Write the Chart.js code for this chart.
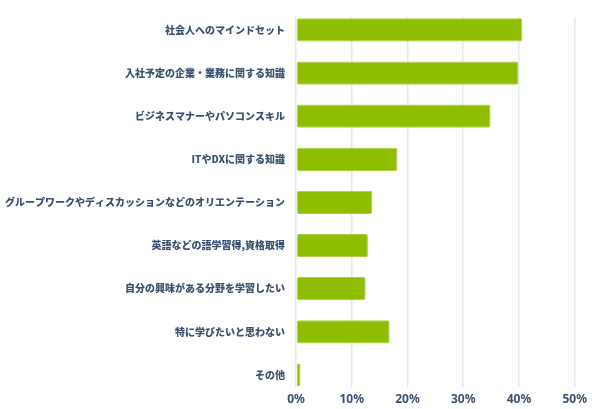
<!DOCTYPE html>
<html>
<head>
<meta charset="utf-8">
<script src="https://cdn.jsdelivr.net/npm/chart.js@4"></script>
<style>
html,body{margin:0;padding:0;background:#fff;}
#wrap{width:592px;height:409px;position:relative;}
</style>
</head>
<body>
<div id="wrap"><canvas id="c"></canvas></div>
<script>
const categories = [
  "社会人へのマインドセット",
  "入社予定の企業・業務に関する知識",
  "ビジネスマナーやパソコンスキル",
  "ITやDXに関する知識",
  "グループワークやディスカッションなどのオリエンテーション",
  "英語などの語学習得,資格取得",
  "自分の興味がある分野を学習したい",
  "特に学びたいと思わない",
  "その他"
];
const values = [40.6, 39.9, 34.9, 18.2, 13.7, 12.9, 12.5, 16.8, 0.8];
const xTicks = [0, 10, 20, 30, 40, 50];

const textColor = "#3b5170";
const points = values.map((v, i) => ({ x: v, y: i }));

new Chart(document.getElementById("c"), {
  type: "bar",
  data: {
    datasets: [{
      data: points,
      backgroundColor: "#8fbd00",
      borderColor: "#a9d040",
      borderWidth: 1,
      borderRadius: 2,
      borderSkipped: false,
      categoryPercentage: 0.6,
      barPercentage: 0.9
    }]
  },
  options: {
    indexAxis: "y",
    responsive: true,
    maintainAspectRatio: false,
    animation: false,
    layout: { padding: { top: 11, bottom: 0, left: 0, right: 11 } },
    plugins: { legend: { display: false }, tooltip: { enabled: false } },
    scales: {
      x: {
        type: "linear",
        min: xTicks[0],
        max: xTicks[xTicks.length - 1],
        afterBuildTicks: (s) => { s.ticks = xTicks.map(v => ({ value: v })); },
        afterFit: (s) => { s.height = 22; },
        grid: { color: "#e3e8f0", lineWidth: 1.5, drawTicks: false },
        border: { display: false },
        ticks: {
          padding: 5,
          color: textColor,
          font: { family: "'Noto Sans', sans-serif", size: 12, weight: "700" },
          callback: (v) => v + "%"
        }
      },
      y: {
        type: "linear",
        reverse: true,
        offset: false,
        min: -0.3,
        max: categories.length - 1 + 0.28,
        afterBuildTicks: (s) => { s.ticks = categories.map((c, i) => ({ value: i })); },
        afterFit: (s) => { s.width = 296; },
        grid: { display: false, drawTicks: false, offset: false },
        border: { display: false },
        ticks: {
          autoSkip: false,
          padding: 11,
          color: textColor,
          font: { family: "'Noto Sans CJK JP', sans-serif", size: 10, weight: "900" },
          callback: (v) => categories[v]
        }
      }
    }
  }
});
</script>
</body>
</html>
